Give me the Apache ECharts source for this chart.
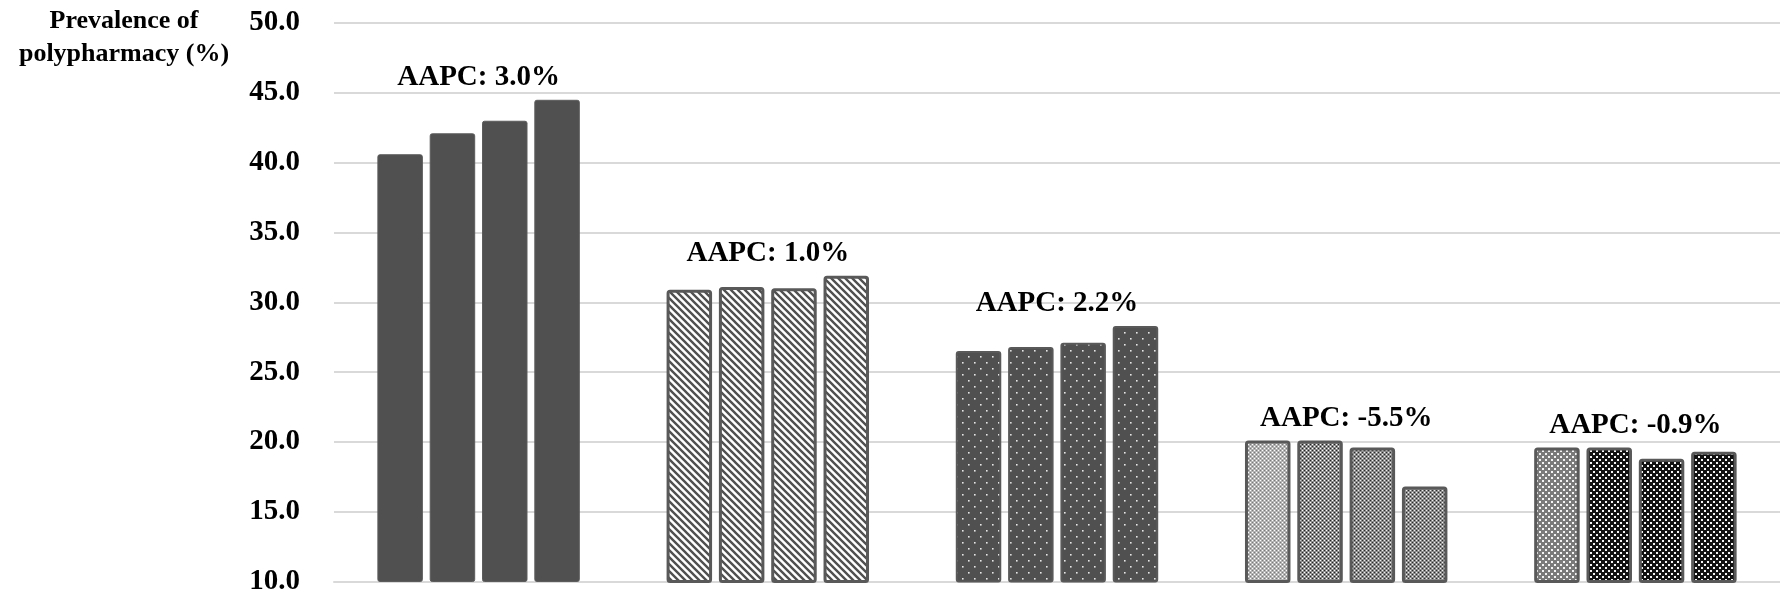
<!DOCTYPE html>
<html>
<head>
<meta charset="utf-8">
<script src="https://cdn.jsdelivr.net/npm/echarts@6/dist/echarts.min.js"></script>
<style>
html, body { margin: 0; padding: 0; background: #fff; }
#chart { width: 1780px; height: 596px; }
</style>
</head>
<body>
<div id="chart"></div>
<script>
// data
var categories = ['Group 1', 'Group 2', 'Group 3', 'Group 4', 'Group 5'];
var period1 = [40.6, 30.9, 26.5, 20.1, 19.6];
var period2 = [42.1, 31.1, 26.8, 20.1, 19.6];
var period3 = [43.0, 31.0, 27.1, 19.6, 18.8];
var period4 = [44.5, 31.9, 28.3, 16.8, 19.3];
var aapcLabels = ['AAPC: 3.0%', 'AAPC: 1.0%', 'AAPC: 2.2%', 'AAPC: -5.5%', 'AAPC: -0.9%'];
var yMin = 10, yMax = 50, yStep = 5;

var allPeriods = [period1, period2, period3, period4];
var serif = 'Liberation Serif';

// small canvas textures used as bar fills
function pattern(w, h, bg, draw) {
    var c = document.createElement('canvas');
    c.width = w;
    c.height = h;
    var ctx = c.getContext('2d');
    ctx.fillStyle = bg;
    ctx.fillRect(0, 0, w, h);
    if (draw) draw(ctx);
    return { image: c, repeat: 'repeat' };
}

function hatch() {
    return pattern(7, 7, '#ffffff', function (ctx) {
        ctx.strokeStyle = '#505050';
        ctx.lineWidth = 2.4;
        ctx.beginPath();
        ctx.moveTo(-2, -2); ctx.lineTo(9, 9);
        ctx.moveTo(-2, 5); ctx.lineTo(2, 9);
        ctx.moveTo(5, -2); ctx.lineTo(9, 2);
        ctx.stroke();
    });
}

function dots() {
    return pattern(12, 12, '#505050', function (ctx) {
        ctx.fillStyle = '#e6e6e6';
        ctx.fillRect(2, 2, 1.6, 1.6);
        ctx.fillRect(8, 8, 1.6, 1.6);
    });
}

function fine(bg, light, dark) {
    return pattern(4, 4, bg, function (ctx) {
        ctx.fillStyle = light;
        ctx.fillRect(0, 0, 1, 1);
        ctx.fillRect(2, 2, 1, 1);
        ctx.fillStyle = dark;
        ctx.fillRect(2, 0, 1, 1);
        ctx.fillRect(0, 2, 1, 1);
    });
}

function checker(bg, sq) {
    return pattern(6, 6, bg, function (ctx) {
        ctx.fillStyle = sq;
        ctx.fillRect(0, 0, 2, 2);
        ctx.fillRect(3, 3, 2, 2);
    });
}

// fills[category][period]
var fills = [
    ['#505050', '#505050', '#505050', '#505050'],
    [hatch(), hatch(), hatch(), hatch()],
    [dots(), dots(), dots(), dots()],
    [fine('#b4b4b4', '#ffffff', '#7a7a7a'), fine('#8c8c8c', '#ffffff', '#222222'),
     fine('#8c8c8c', '#f0f0f0', '#2a2a2a'), fine('#8c8c8c', '#f0f0f0', '#2a2a2a')],
    [checker('#7a7a7a', '#f4f4f4'), checker('#111111', '#f4f4f4'),
     checker('#111111', '#f4f4f4'), checker('#111111', '#f4f4f4')]
];
var borders = ['#5c5c5c', '#595959', '#595959', '#595959', '#595959'];
var borderWidths = [1, 3, 2, 3, 3];

var series = allPeriods.map(function (vals, p) {
    return {
        name: 'Period ' + (p + 1),
        type: 'bar',
        barGap: '15%',
        barCategoryGap: '30%',
        data: vals.map(function (v, k) {
            return {
                value: v,
                itemStyle: {
                    color: fills[k][p],
                    borderColor: borders[k],
                    borderWidth: borderWidths[k],
                    borderRadius: 2
                }
            };
        })
    };
});

// AAPC text sits above the tallest bar of each group
var groupMax = categories.map(function (c, k) {
    return Math.max(period1[k], period2[k], period3[k], period4[k]);
});
series.push({
    name: 'AAPC',
    type: 'scatter',
    symbolSize: 1,
    itemStyle: { color: 'rgba(0,0,0,0)', opacity: 1 },
    data: groupMax,
    z: 5,
    label: {
        show: true,
        position: 'top',
        distance: 7,
        formatter: function (p) { return aapcLabels[p.dataIndex]; },
        fontFamily: serif,
        fontWeight: 'bold',
        fontSize: 29,
        color: '#000'
    }
});

var myChart = echarts.init(document.getElementById('chart'));
var option = {
    animation: false,
    backgroundColor: '#ffffff',
    grid: { left: 334, right: -6, top: 23, bottom: 13 },
    graphic: [{
        type: 'text',
        x: 124,
        y: 5,
        style: {
            text: 'Prevalence of\npolypharmacy (%)',
            align: 'center',
            verticalAlign: 'top',
            fontFamily: serif,
            fontWeight: 'bold',
            fontSize: 26,
            lineHeight: 33,
            fill: '#000'
        }
    }],
    xAxis: {
        type: 'category',
        data: categories,
        axisLine: { show: true, lineStyle: { color: '#d9d9d9', width: 2 } },
        axisTick: { show: false },
        axisLabel: { show: false }
    },
    yAxis: {
        type: 'value',
        min: yMin,
        max: yMax,
        interval: yStep,
        axisLine: { show: false },
        axisTick: { show: false },
        axisLabel: {
            margin: 34,
            fontFamily: serif,
            fontWeight: 'bold',
            fontSize: 29,
            color: '#000',
            formatter: function (v) { return v.toFixed(1); }
        },
        splitLine: { lineStyle: { color: '#d9d9d9', width: 2 } }
    },
    series: series
};
myChart.setOption(option);
</script>
</body>
</html>
